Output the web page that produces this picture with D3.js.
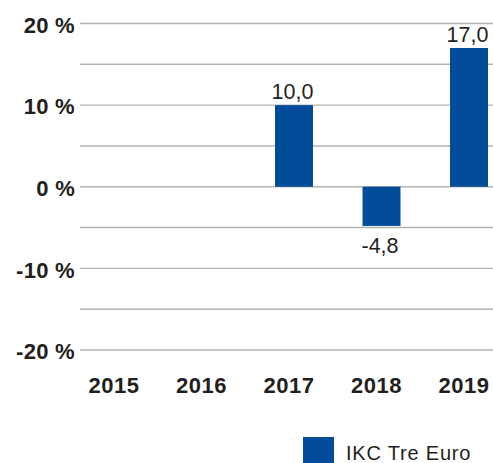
<!DOCTYPE html>
<html>
<head>
<meta charset="utf-8">
<script src="https://cdn.jsdelivr.net/npm/d3@7"></script>
<style>
    body { margin: 0; background: #ffffff; }
    svg { display: block; font-family: "Liberation Sans", Arial, sans-serif; }
</style>
</head>
<body>
<div id="chart"></div>
<script>
// Data
const years = ["2015", "2016", "2017", "2018", "2019"];
const returns = [null, null, 10.0, -4.8, 17.0];
const yTickLabels = [-20, -10, 0, 10, 20];
const gridValues = [-20, -15, -10, -5, 0, 5, 10, 15, 20];
const seriesName = "IKC Tre Euro";

const width = 493;
const height = 463;
const barColor = "#034c99";
const textColor = "#231f20";

const svg = d3.select("#chart")
    .append("svg")
    .attr("width", width)
    .attr("height", height);

// Scales
const xScale = d3.scaleBand()
    .domain(years)
    .range([75.25, 512.75])
    .paddingInner(0.566)
    .paddingOuter(0.283);

const yScale = d3.scaleLinear()
    .domain([-20, 20])
    .range([350, 23.5]);

// Gridlines
svg.append("g")
    .selectAll("line")
    .data(gridValues)
    .join("line")
    .attr("x1", 80)
    .attr("x2", width)
    .attr("y1", d => yScale(d))
    .attr("y2", d => yScale(d))
    .attr("stroke", "#b3b3b3")
    .attr("stroke-width", 1.4);

// Y axis labels
const leftAxis = d3.axisLeft(yScale)
    .tickValues(yTickLabels)
    .tickSize(0)
    .tickPadding(5)
    .tickFormat(d => `${d} %`);

const yAxis = svg.append("g")
    .attr("transform", "translate(75,0)")
    .call(leftAxis);
yAxis.select(".domain").remove();
yAxis.selectAll("text")
    .attr("x", 0)
    .attr("dy", "0.4em")
    .attr("fill", textColor)
    .style("font-size", "22px")
    .style("font-weight", "bold")
    .style("letter-spacing", "0.3px");

// Bars
const barData = years.map((y, i) => ({ year: y, value: returns[i] }))
    .filter(d => d.value !== null);

svg.append("g")
    .selectAll("rect")
    .data(barData)
    .join("rect")
    .attr("x", d => xScale(d.year))
    .attr("y", d => yScale(Math.max(0, d.value)))
    .attr("width", xScale.bandwidth())
    .attr("height", d => Math.abs(yScale(d.value) - yScale(0)))
    .attr("fill", barColor);

// Value labels
svg.append("g")
    .selectAll("text")
    .data(barData)
    .join("text")
    .attr("x", d => xScale(d.year) + xScale.bandwidth() / 2 - 1.5)
    .attr("y", d => d.value >= 0 ? yScale(d.value) - 6 : yScale(d.value) + 27)
    .attr("text-anchor", "middle")
    .attr("fill", textColor)
    .style("font-size", "21.5px")
    .text(d => d.value.toFixed(1).replace(".", ","));

// X axis labels
const bottomAxis = d3.axisBottom(xScale)
    .tickSize(0)
    .tickPadding(0);

const xAxis = svg.append("g")
    .attr("transform", "translate(-5,0)")
    .call(bottomAxis);
xAxis.select(".domain").remove();
xAxis.selectAll("text")
    .attr("y", 393)
    .attr("dy", 0)
    .attr("fill", textColor)
    .style("font-size", "22px")
    .style("font-weight", "bold")
    .style("letter-spacing", "0.5px");

// Legend
const legend = svg.append("g")
    .attr("transform", "translate(303,437)");

legend.append("rect")
    .attr("width", 31)
    .attr("height", 26)
    .attr("fill", barColor);

legend.append("text")
    .attr("x", 43)
    .attr("y", 23)
    .attr("fill", textColor)
    .style("font-size", "20px")
    .style("letter-spacing", "0.8px")
    .text(seriesName);
</script>
</body>
</html>
